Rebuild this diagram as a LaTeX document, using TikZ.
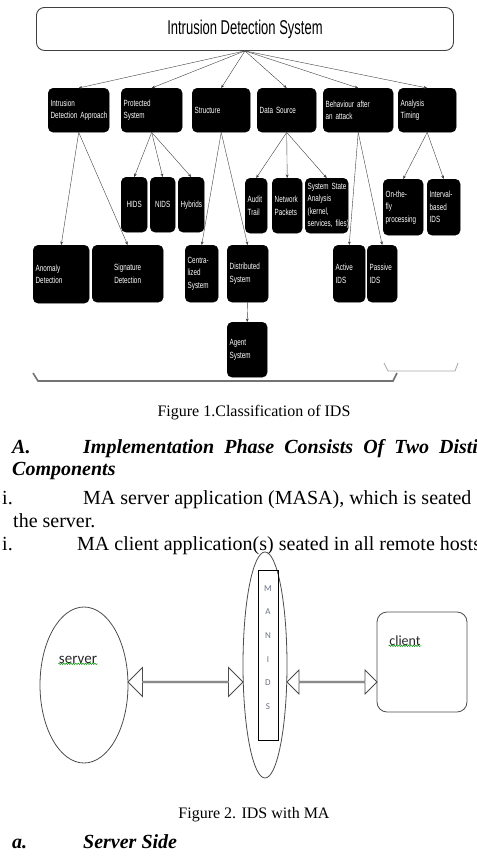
\documentclass[tikz,border=0pt]{standalone}
\usepackage{fontspec}
\setmainfont{Liberation Serif}
\newfontfamily\idsfont[FakeStretch=0.65]{Liberation Sans}
\newfontfamily\boxfont[FakeStretch=0.7]{Liberation Sans}
\newfontfamily\calfont{Carlito}
\usetikzlibrary{arrows.meta,shapes.geometric,shapes.arrows,decorations.pathmorphing,calc}

\tikzstyle{root-box}=[draw=black!75, line width=0.9pt, rounded corners=8pt, anchor=north west, minimum width=417pt, minimum height=43pt, font=\idsfont\fontsize{20}{20}\selectfont]
\tikzstyle{class-box}=[draw=black, fill=black, rounded corners=5pt, text=white, font=\boxfont\fontsize{9}{12.5}\selectfont, align=left, inner xsep=2.5pt, inner ysep=2pt, anchor=north west]
\tikzstyle{class-edge}=[-{Stealth[length=3.5pt,width=2.8pt]}, draw=black!75, line width=0.4pt]
\tikzstyle{page-text}=[anchor=base west, inner sep=0pt, font=\fontsize{20}{22}\selectfont]
\tikzstyle{caption-text}=[anchor=base, inner sep=0pt, font=\fontsize{16}{19}\selectfont]
\tikzstyle{ma-shape}=[draw=black!70, line width=0.8pt, inner sep=0pt]
\tikzstyle{ma-link}=[double arrow, draw=black!70, line width=0.8pt, inner sep=0pt, double arrow head indent=0pt]
\tikzstyle{ma-label}=[anchor=base, inner sep=0.5pt, font=\calfont\fontsize{15}{15}\selectfont, text=black!85]
\tikzstyle{squiggle}=[draw=green!55!black, line width=0.5pt, decorate, decoration={snake, amplitude=0.7pt, segment length=2.4pt}]
\definecolor{LetterGrey}{HTML}{6a7286}

\begin{document}
\begin{tikzpicture}[x=1pt, y=-1pt]
  \useasboundingbox (0,0) rectangle (477,863);
  \clip (0,0) rectangle (477,863);

  % figure 1: classification tree
  \node (ids-root) at (36,7) [root-box] {Intrusion Detection System};

  \node (ids-approach) at (48,88) [class-box, text width=56pt, minimum height=44pt] {Intrusion\\{}\mbox{Detection Approach}};
  \node (ids-prot) at (121,88) [class-box, text width=56pt, minimum height=44pt] {Protected\\System};
  \node (ids-struc) at (192,88) [class-box, text width=53pt, minimum height=44pt] {Structure};
  \node (ids-dsrc) at (257,88) [class-box, text width=54pt, minimum height=44pt] {Data Source};
  \node (ids-behav) at (323,88) [class-box, text width=65pt, minimum height=44pt] {\mbox{Behaviour after}\\an attack};
  \node (ids-timing) at (398,88) [class-box, text width=53pt, minimum height=44pt] {Analysis\\Timing};

  \node (ids-hids) at (121,177) [class-box, align=center, text width=21pt, minimum height=55pt] {HIDS};
  \node (ids-nids) at (150,177) [class-box, align=center, text width=20pt, minimum height=55pt] {NIDS};
  \node (ids-hybrid) at (178,177) [class-box, align=center, text width=21pt, minimum height=55pt] {Hybrids};

  \node (ids-audit) at (245,178) [class-box, text width=17pt, minimum height=55pt] {Audit\\Trail};
  \node (ids-netp) at (272,178) [class-box, text width=25pt, minimum height=55pt] {Network\\Packets};
  \node (ids-sysst) at (305,178) [class-box, text width=38pt, minimum height=55pt] {\mbox{System State}\\Analysis\\(kernel,\\{}\mbox{services, files)}};

  \node (ids-otf) at (383,179) [class-box, text width=35pt, minimum height=56pt] {On-the-\\fly\\processing};
  \node (ids-intv) at (427,179) [class-box, text width=28pt, minimum height=56pt] {Interval-\\based\\IDS};

  \node (ids-anom) at (33,245) [class-box, text width=51pt, minimum height=58pt] {Anomaly\\Detection};
  \node (ids-sig) at (92,245) [class-box, align=center, text width=66pt, minimum height=57pt] {Signature\\Detection};
  \node (ids-cent) at (185,245) [class-box, text width=28pt, minimum height=57pt] {Centra-\\lized\\System};
  \node (ids-dist) at (227,245) [class-box, text width=36pt, minimum height=57pt] {Distributed\\System};
  \node (ids-agent) at (227,322) [class-box, text width=35pt, minimum height=55pt] {Agent\\System};
  \node (ids-active) at (333,245) [class-box, text width=27pt, minimum height=57pt] {Active\\IDS};
  \node (ids-passive) at (367,245) [class-box, text width=25pt, minimum height=57pt] {Passive\\IDS};

  \foreach \n in {approach,prot,struc,dsrc,behav,timing}
    \draw[class-edge] (ids-root.south) -- (ids-\n.north);
  \foreach \n in {hids,nids,hybrid}
    \draw[class-edge] (ids-prot.south) -- (ids-\n.north);
  \foreach \n in {audit,netp,sysst}
    \draw[class-edge] (ids-dsrc.south) -- (ids-\n.north);
  \foreach \n in {otf,intv}
    \draw[class-edge] (ids-timing.south) -- (ids-\n.north);
  \foreach \n in {anom,sig}
    \draw[class-edge] (ids-approach.south) -- (ids-\n.north);
  \foreach \n in {cent,dist}
    \draw[class-edge] (ids-struc.south) -- (ids-\n.north);
  \foreach \n in {active,passive}
    \draw[class-edge] (ids-behav.south) -- (ids-\n.north);
  \draw[class-edge] (ids-dist.south) -- (ids-agent.north);

  % cropped frame edges
  \draw[black!55, line width=1.6pt] (33,373) -- (38,381) -- (393,381) -- (397,373);
  \draw[black!35, line width=0.8pt] (384,363) -- (388,371) -- (455,371) -- (458,363);

  \node (cap-one) at (254,416) [caption-text] {Figure 1.Classification of IDS};

  % text between the figures
  \node (txt-a) at (12,453) [page-text, font=\fontsize{20}{22}\selectfont\bfseries\itshape] {A.};
  \node (txt-head) at (83,453) [page-text, font=\fontsize{20}{22}\selectfont\bfseries\itshape] {\spaceskip=10pt Implementation Phase Consists Of Two Distinct};
  \node (txt-comp) at (12,475) [page-text, font=\fontsize{20}{22}\selectfont\bfseries\itshape] {Components};
  \node (txt-i1) at (2,504) [page-text] {i.};
  \node (txt-masa) at (83,504) [page-text] {MA server application (MASA), which is seated};
  \node (txt-srv) at (13,527) [page-text] {the server.};
  \node (txt-i2) at (2,550) [page-text] {i.};
  \node (txt-macl) at (77,550) [page-text] {MA client application(s) seated in all remote hosts};

  % figure 2: IDS with MA
  \node (ma-server) at (84,685) [ma-shape, ellipse, minimum width=88pt, minimum height=156pt] {};
  \node (ma-manids) at (265,665) [ma-shape, ellipse, minimum width=44pt, minimum height=226pt] {};
  \node (ma-strip) at (268,655) [ma-shape, draw=black, minimum width=20pt, minimum height=170pt] {};
  \node (ma-client) at (422,662) [ma-shape, rounded corners=10pt, minimum width=90pt, minimum height=100pt] {};

  \foreach \l [count=\i] in {M,A,N,I,D,S}
    \node (ma-l\i) at (268,564.5+23.7*\i) [inner sep=0pt, font=\calfont\fontsize{9}{9}\selectfont, text=LetterGrey] {\l};

  \node (ma-srvtxt) at (78,663) [ma-label] {server};
  \draw[squiggle] (ma-srvtxt.south west) -- (ma-srvtxt.south east);
  \node (ma-cltxt) at (405,645) [ma-label, font=\calfont\fontsize{14}{14}\selectfont] {client};
  \draw[squiggle] (ma-cltxt.south west) -- (ma-cltxt.south east);

  \coordinate (ma-axis) at (0,682);
  \node (ma-link1) at ($(ma-server.east |- ma-axis)!0.5!(ma-manids.west |- ma-axis)$) [ma-link, minimum height=115pt, minimum width=29pt, double arrow head extend=8pt] {};
  \node (ma-link2) at ($(ma-manids.east |- ma-axis)!0.5!(ma-client.west |- ma-axis)$) [ma-link, minimum height=90pt, minimum width=24pt, double arrow head extend=6pt] {};

  \node (cap-two) at (254,818) [caption-text] {Figure 2. IDS with MA};

  \node (txt-sa) at (12,848) [page-text, font=\fontsize{20}{22}\selectfont\bfseries\itshape] {a.};
  \node (txt-side) at (83,848) [page-text, font=\fontsize{20}{22}\selectfont\bfseries\itshape] {Server Side};
\end{tikzpicture}
\end{document}
